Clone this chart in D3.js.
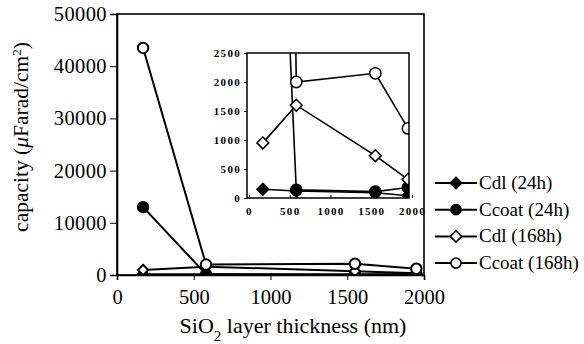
<!DOCTYPE html>
<html>
<head>
<meta charset="utf-8">
<script src="https://cdn.jsdelivr.net/npm/d3@7"></script>
<style>
  body { margin: 0; background: #fff; }
  svg text { font-family: "Liberation Serif", "DejaVu Serif", "Times New Roman", Times, serif; }
</style>
</head>
<body>
<div id="chart"></div>
<script>
// thickness of the SiO2 layer (nm)
const thickness = [170, 580, 1550, 1950];

const cdl24 = [150, 120, 90, 40];
const ccoat24 = [13000, 140, 110, 180];
const cdl168 = [950, 1600, 730, 320];
const ccoat168 = [43500, 2000, 2150, 1200];

const seriesNames = ["Cdl (24h)", "Ccoat (24h)", "Cdl (168h)", "Ccoat (168h)"];
const seriesValues = [cdl24, ccoat24, cdl168, ccoat168];
const seriesShapes = ["diamond", "circle", "diamond", "circle"];
const seriesFilled = [true, true, false, false];

const mainYTicks = [0, 10000, 20000, 30000, 40000, 50000];
const mainXTicks = [0, 500, 1000, 1500, 2000];
const insetYTicks = [0, 500, 1000, 1500, 2000, 2500];
const insetXTicks = [0, 500, 1000, 1500, 2000];

const W = 584, H = 344;

const svg = d3.select("#chart").append("svg")
    .attr("width", W)
    .attr("height", H);

const series = seriesNames.map((name, i) => ({
    name: name,
    shape: seriesShapes[i],
    filled: seriesFilled[i],
    points: thickness.map((t, j) => ({x: t, y: seriesValues[i][j]}))
}));

// square diamond (d3's own diamond is too tall)
const squareDiamond = {
    draw(ctx, size) {
        const r = Math.sqrt(size / 2);
        ctx.moveTo(0, -r);
        ctx.lineTo(r, 0);
        ctx.lineTo(0, r);
        ctx.lineTo(-r, 0);
        ctx.closePath();
    }
};

function symbolPath(shape, size) {
    const type = shape === "circle" ? d3.symbolCircle : squareDiamond;
    return d3.symbol().type(type).size(size)();
}

function drawPanel(g, x, y, opts) {
    const line = d3.line().x(d => x(d.x)).y(d => y(d.y));

    g.append("clipPath").attr("id", opts.clipId)
        .append("rect")
        .attr("x", opts.box[0])
        .attr("y", opts.box[1])
        .attr("width", opts.box[2] - opts.box[0])
        .attr("height", opts.box[3] - opts.box[1]);

    const plot = g.append("g").attr("clip-path", `url(#${opts.clipId})`);

    series.forEach(s => {
        plot.append("path")
            .datum(s.points)
            .attr("fill", "none")
            .attr("stroke", "#000")
            .attr("stroke-width", opts.lineWidth)
            .attr("d", line);
    });

    series.forEach(s => {
        plot.selectAll(null)
            .data(s.points)
            .enter().append("path")
            .attr("transform", d => `translate(${x(d.x)},${y(d.y)})`)
            .attr("d", symbolPath(s.shape, s.shape === "circle" ? opts.circleSize : opts.diamondSize))
            .attr("fill", s.filled ? "#000" : "#fff")
            .attr("stroke", "#000")
            .attr("stroke-width", opts.markerStroke);
    });

    g.append("rect")
        .attr("x", opts.box[0])
        .attr("y", opts.box[1])
        .attr("width", opts.box[2] - opts.box[0])
        .attr("height", opts.box[3] - opts.box[1])
        .attr("fill", "none")
        .attr("stroke", "#000")
        .attr("stroke-width", opts.frameWidth);
}

function styleAxis(g, size, weight, spacing) {
    g.attr("font-family", null).attr("font-size", size);
    g.selectAll("text")
        .attr("fill", "#000")
        .attr("font-weight", weight)
        .attr("letter-spacing", spacing);
}

// main chart
const x = d3.scaleLinear().domain([0, 2000]).range([117, 424]);
const y = d3.scaleLinear().domain([0, 50000]).range([275, 14]);

drawPanel(svg.append("g"), x, y, {
    clipId: "clipMain", box: [117, 14, 424, 275],
    lineWidth: 2, markerStroke: 2,
    circleSize: 85, diamondSize: 55, frameWidth: 1.6
});

svg.append("g")
    .attr("transform", "translate(0,275)")
    .call(d3.axisBottom(x).tickValues(mainXTicks).tickFormat(d3.format("d")).tickSize(5).tickPadding(9))
    .call(g => g.select(".domain").attr("stroke-width", 1.6))
    .call(g => styleAxis(g, 20.5, "normal", 0));

svg.append("g")
    .attr("transform", "translate(117,0)")
    .call(d3.axisLeft(y).tickValues(mainYTicks).tickFormat(d3.format("d")).tickSize(7).tickPadding(3))
    .call(g => g.select(".domain").attr("stroke-width", 1.6))
    .call(g => styleAxis(g, 20.5, "normal", 0.4));

// inset chart
const xi = d3.scaleLinear().domain([0, 2000]).range([249, 412]);
const yi = d3.scaleLinear().domain([0, 2500]).range([198, 53]);

const insetG = svg.append("g");
insetG.append("rect")
    .attr("x", 247).attr("y", 53)
    .attr("width", 162).attr("height", 145)
    .attr("fill", "#fff");
drawPanel(insetG, xi, yi, {
    clipId: "clipInset", box: [247, 53, 409, 198],
    lineWidth: 1.6, markerStroke: 1.5,
    circleSize: 100, diamondSize: 70, frameWidth: 1.5
});

svg.append("g")
    .attr("transform", "translate(0,198)")
    .call(d3.axisBottom(xi).tickValues(insetXTicks).tickFormat(d3.format("d")).tickSize(-3).tickPadding(9))
    .call(g => g.select(".domain").remove())
    .call(g => styleAxis(g, 11, "bold", 1.3));

svg.append("g")
    .attr("transform", "translate(247,0)")
    .call(d3.axisLeft(yi).tickValues(insetYTicks).tickFormat(d3.format("d")).tickSize(3).tickPadding(3))
    .call(g => g.select(".domain").remove())
    .call(g => styleAxis(g, 11, "bold", 1.3));

// axis titles
const yTitle = svg.append("text")
    .attr("transform", "translate(28,137) rotate(-90)")
    .attr("text-anchor", "middle")
    .attr("font-size", 21.5)
    .attr("fill", "#000");
yTitle.append("tspan").text("capacity (");
yTitle.append("tspan").attr("font-style", "italic").text("μ");
yTitle.append("tspan").text("Farad/cm");
yTitle.append("tspan").attr("baseline-shift", "super").attr("font-size", 13).text("2");
yTitle.append("tspan").text(")");

const xTitle = svg.append("text")
    .attr("x", 293)
    .attr("y", 333)
    .attr("text-anchor", "middle")
    .attr("font-size", 22)
    .attr("fill", "#000");
xTitle.append("tspan").text("SiO");
xTitle.append("tspan").attr("baseline-shift", "sub").attr("font-size", 15).text("2");
xTitle.append("tspan").text(" layer thickness (nm)");

// legend
const legend = svg.append("g").attr("transform", "translate(435,183)");
series.forEach((s, i) => {
    const row = legend.append("g").attr("transform", `translate(0,${i * 26.7})`);
    row.append("line")
        .attr("x1", 0).attr("x2", 42)
        .attr("stroke", "#000").attr("stroke-width", 2);
    row.append("path")
        .attr("transform", "translate(21,0)")
        .attr("d", symbolPath(s.shape, s.shape === "circle" ? 80 : 65))
        .attr("fill", s.filled ? "#000" : "#fff")
        .attr("stroke", "#000")
        .attr("stroke-width", 1.6);
    row.append("text")
        .attr("x", 44)
        .attr("y", 6)
        .attr("font-size", 19)
        .attr("fill", "#000")
        .text(s.name);
});
</script>
</body>
</html>
